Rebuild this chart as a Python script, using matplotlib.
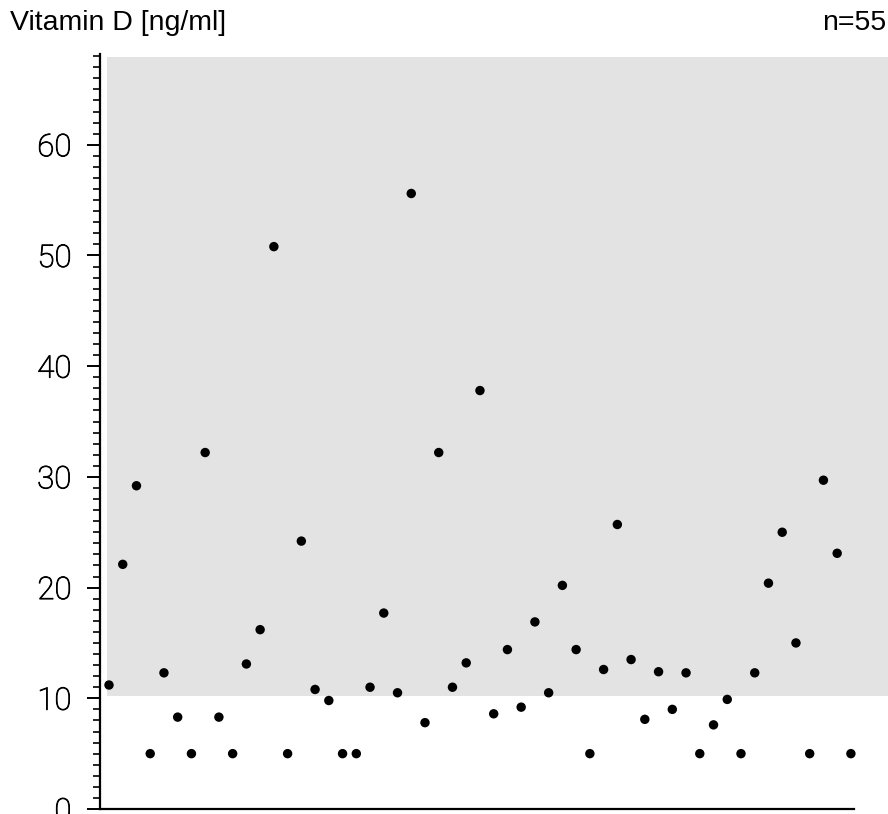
import numpy as np
from matplotlib import pyplot as plt
from matplotlib import patheffects
from matplotlib.patches import Rectangle
from matplotlib.ticker import MultipleLocator

plt.rcParams['font.family'] = ['Liberation Sans', 'DejaVu Sans']

# vitamin D measurements, one per patient, in the order sampled
vitd = [11.2, 22.1, 29.2, 5.0, 12.3, 8.3, 5.0, 32.2, 8.3, 5.0,
        13.1, 16.2, 50.8, 5.0, 24.2, 10.8, 9.8, 5.0, 5.0, 11.0,
        17.7, 10.5, 55.6, 7.8, 32.2, 11.0, 13.2, 37.8, 8.6, 14.4,
        9.2, 16.9, 10.5, 20.2, 14.4, 5.0, 12.6, 25.7, 13.5, 8.1,
        12.4, 9.0, 12.3, 5.0, 7.6, 9.9, 5.0, 12.3, 20.4, 25.0,
        15.0, 5.0, 29.7, 23.1, 5.0]
cutoff = 10.2
ymax = 68.2

idx = np.arange(len(vitd))

fig = plt.figure(figsize=(8.88, 8.14), dpi=100)
ax = fig.add_axes([100/888, 5/814, 788/888, 755/814])

x0, x1 = -0.655, 56.7
ax.set_xlim(x0, x1)
ax.set_ylim(0, ymax)

# shaded band above the cutoff
ax.add_patch(Rectangle((-0.15, cutoff), x1 + 0.15, 67.96 - cutoff,
                       facecolor='#e3e3e3', edgecolor='none', zorder=0))

ax.scatter(idx, vitd, s=46, color='black', edgecolors='none', zorder=3)

for s in ['top', 'right']:
    ax.spines[s].set_visible(False)
ax.spines['left'].set_linewidth(1.6)
ax.spines['bottom'].set_linewidth(1.6)
ax.spines['bottom'].set_bounds(x0, 54.22)

ax.set_xticks([])
ax.yaxis.set_major_locator(MultipleLocator(10))
ax.yaxis.set_minor_locator(MultipleLocator(1))
ax.tick_params(axis='y', which='major', length=9.5, width=1.4, pad=11)
ax.tick_params(axis='y', which='minor', length=5, width=1.2)
ax.set_yticks(np.arange(0, 61, 10))
labels = ax.set_yticklabels([str(v) for v in range(0, 61, 10)],
                            family=['Roboto', 'Liberation Sans'], fontweight='light',
                            fontsize=22.5, color='black')
for t in labels:
    t.set_path_effects([patheffects.withStroke(linewidth=0.6, foreground='black')])

fig.text(10/888, 1 - 23/814, 'Vitamin D [ng/ml]', fontsize=20.5, va='center', ha='left')
fig.text(886/888, 1 - 23/814, 'n=%d' % len(vitd), fontsize=20.5, va='center', ha='right')

fig.savefig('out.png', dpi=100)
